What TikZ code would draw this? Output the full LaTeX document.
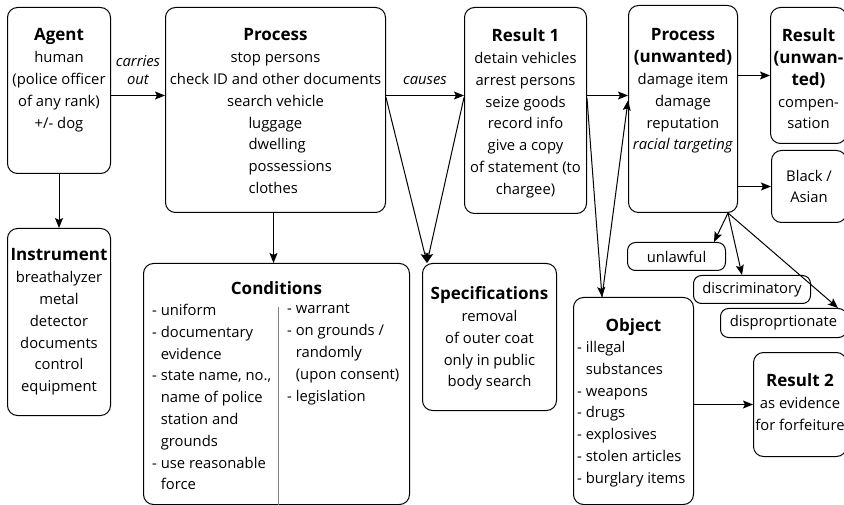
\documentclass[tikz,border=0pt]{standalone}
\usepackage{fontspec}
\setmainfont{Open Sans}
\usetikzlibrary{positioning, arrows.meta}
\newcommand{\bodyfont}{\fontsize{14.8}{21.8}\selectfont}
\newcommand{\headfont}{\fontsize{17}{21.8}\selectfont\bfseries}
\newcommand{\lblfont}{\fontsize{14.8}{18}\selectfont\itshape}
\newcommand{\itemline}[1]{\makebox[110pt][l]{\hspace{28pt}#1}}
\tikzstyle{box} = [rectangle, rounded corners=10pt, draw=black, line width=1pt, anchor=north west]
\tikzstyle{tag} = [rectangle, rounded corners=8pt, draw=black, line width=1pt, anchor=north west, font=\bodyfont]
\tikzstyle{txt} = [align=center, font=\bodyfont, inner sep=0pt]
\tikzstyle{lst} = [align=left, font=\bodyfont, inner sep=0pt, anchor=north west]
\tikzstyle{lbl} = [align=center, font=\lblfont, inner sep=3pt]
\tikzstyle{arrow} = [->, >={Stealth[length=10pt, width=8pt, inset=2pt]}, line width=1pt]
\begin{document}
\begin{tikzpicture}[x=1pt, y=-1pt]
	\useasboundingbox (0,0) rectangle (844,505);
	\node (agent) [box, minimum width=103pt, minimum height=166pt] at (7,7) {};
	\node (instrument) [box, minimum width=103pt, minimum height=187pt] at (7,228) {};
	\node (process) [box, minimum width=220pt, minimum height=205pt] at (165,7) {};
	\node (conditions) [box, minimum width=266pt, minimum height=241pt] at (143,263) {};
	\node (spec) [box, minimum width=134pt, minimum height=147pt] at (422,263) {};
	\node (result1) [box, minimum width=122pt, minimum height=206pt] at (464,7) {};
	\node (pu) [box, minimum width=109pt, minimum height=207pt] at (628,5) {};
	\node (ru) [box, minimum width=76pt, minimum height=136pt] at (770,7) {};
	\node (ba) [box, minimum width=75pt, minimum height=72pt, align=center, font=\bodyfont] at (771,150) {Black /\\Asian};
	\node (object) [box, minimum width=120pt, minimum height=207pt] at (573,297) {};
	\node (result2) [box, minimum width=93pt, minimum height=104pt] at (753,352) {};
	\node (unlawful) [tag, minimum width=98pt, minimum height=28pt] at (627,242) {unlawful};
	\node (discrim) [tag, minimum width=117pt, minimum height=28pt] at (693,275) {discriminatory};
	\node (dispro) [tag, minimum width=126pt, minimum height=29pt] at (720,308) {disproprtionate};
	
	\node (agenttxt) [txt, below=21.5pt of agent.north] {{\headfont Agent}\\human\\(police officer\\of any rank)\\+/- dog};
	\node (instrtxt) [txt, below=20.5pt of instrument.north] {{\headfont Instrument}\\breathalyzer\\metal\\detector\\documents\\control\\equipment};
	\node (processtxt) [txt, below=21.5pt of process.north] {{\headfont Process}\\stop persons\\check ID and other documents\\search vehicle\\\itemline{luggage}\\\itemline{dwelling}\\\itemline{possessions}\\\itemline{clothes}};
	\node (condtxt) [txt, below=18.5pt of conditions.north] {{\headfont Conditions}};
	\node (condleft) [lst] at ([xshift=9pt, yshift=-41pt]conditions.north west) {- uniform\\- documentary\\\phantom{- }evidence\\- state name, no.,\\\phantom{- }name of police\\\phantom{- }station and\\\phantom{- }grounds\\- use reasonable\\\phantom{- }force};
	\node (condright) [lst] at ([xshift=144pt, yshift=-41pt]conditions.north west) {- warrant\\- on grounds /\\\phantom{- }randomly\\\phantom{- }(upon consent)\\- legislation};
	\draw [gray, line width=0.8pt] ([xshift=135pt, yshift=-44pt]conditions.north west) -- ([xshift=135pt]conditions.south west);
	\node (spectxt) [txt, below=23.5pt of spec.north] {{\headfont Specifications}\\removal\\of outer coat\\only in public\\body search};
	\node (result1txt) [txt, below=21.5pt of result1.north] {{\headfont Result 1}\\detain vehicles\\arrest persons\\seize goods\\record info\\give a copy\\of statement (to\\chargee)};
	\node (putxt) [txt, below=23.5pt of pu.north] {{\headfont Process}\\{\headfont (unwanted)}\\damage item\\damage\\reputation\\\textit{racial targeting}};
	\node (rutxt) [txt, below=21.5pt of ru.north] {{\headfont Result}\\{\headfont (unwan-}\\{\headfont ted)}\\compen-\\sation};
	\node (objecttxt) [txt, below=21.5pt of object.north] {{\headfont Object}};
	\node (objectlst) [lst] at ([xshift=4pt, yshift=-44pt]object.north west) {- illegal\\\phantom{- }substances\\- weapons\\- drugs\\- explosives\\- stolen articles\\- burglary items};
	\node (result2txt) [txt, below=21.5pt of result2.north] {{\headfont Result 2}\\as evidence\\for forfeiture};
	
	\draw [arrow] ([yshift=-5pt]agent.east) -- ([yshift=-5pt]agent.east -| process.west) node [lbl, midway, above=7pt] {carries\\out};
	\draw [arrow] (agent.south) -- (instrument.north);
	\draw [arrow] ([xshift=-2pt]process.south) -- ([xshift=-2pt]process.south |- conditions.north);
	\draw [arrow] ([yshift=14.5pt]process.east) -- ([yshift=14.5pt]process.east -| result1.west) node [lbl, midway, above=7pt] {causes};
	\draw [arrow] ([yshift=12.5pt]process.east) -- ([xshift=5pt]spec.north west);
	\draw [arrow] ([yshift=13pt]result1.west) -- ([xshift=5pt]spec.north west);
	\draw [arrow] ([yshift=15pt]result1.east) -- ([yshift=15pt]result1.east -| pu.west);
	\draw [arrow] ([yshift=12pt]result1.east) -- ([xshift=29pt]object.north west);
	\draw [arrow] ([xshift=29pt]object.north west) -- ([yshift=8.5pt]pu.west);
	\draw [arrow] (pu.east |- ru.west) -- (ru.west);
	\draw [arrow] (pu.east |- ba.west) -- (ba.west);
	\draw [arrow] ([xshift=-10pt]pu.south east) -- ([xshift=-12pt]unlawful.north east);
	\draw [arrow] ([xshift=-10pt]pu.south east) -- ([xshift=49pt]discrim.north west);
	\draw [arrow] ([xshift=-10pt]pu.south east) -- ([xshift=-9pt]dispro.north east);
	\draw [arrow] (object.east |- result2.west) -- (result2.west);
\end{tikzpicture}
\end{document}
